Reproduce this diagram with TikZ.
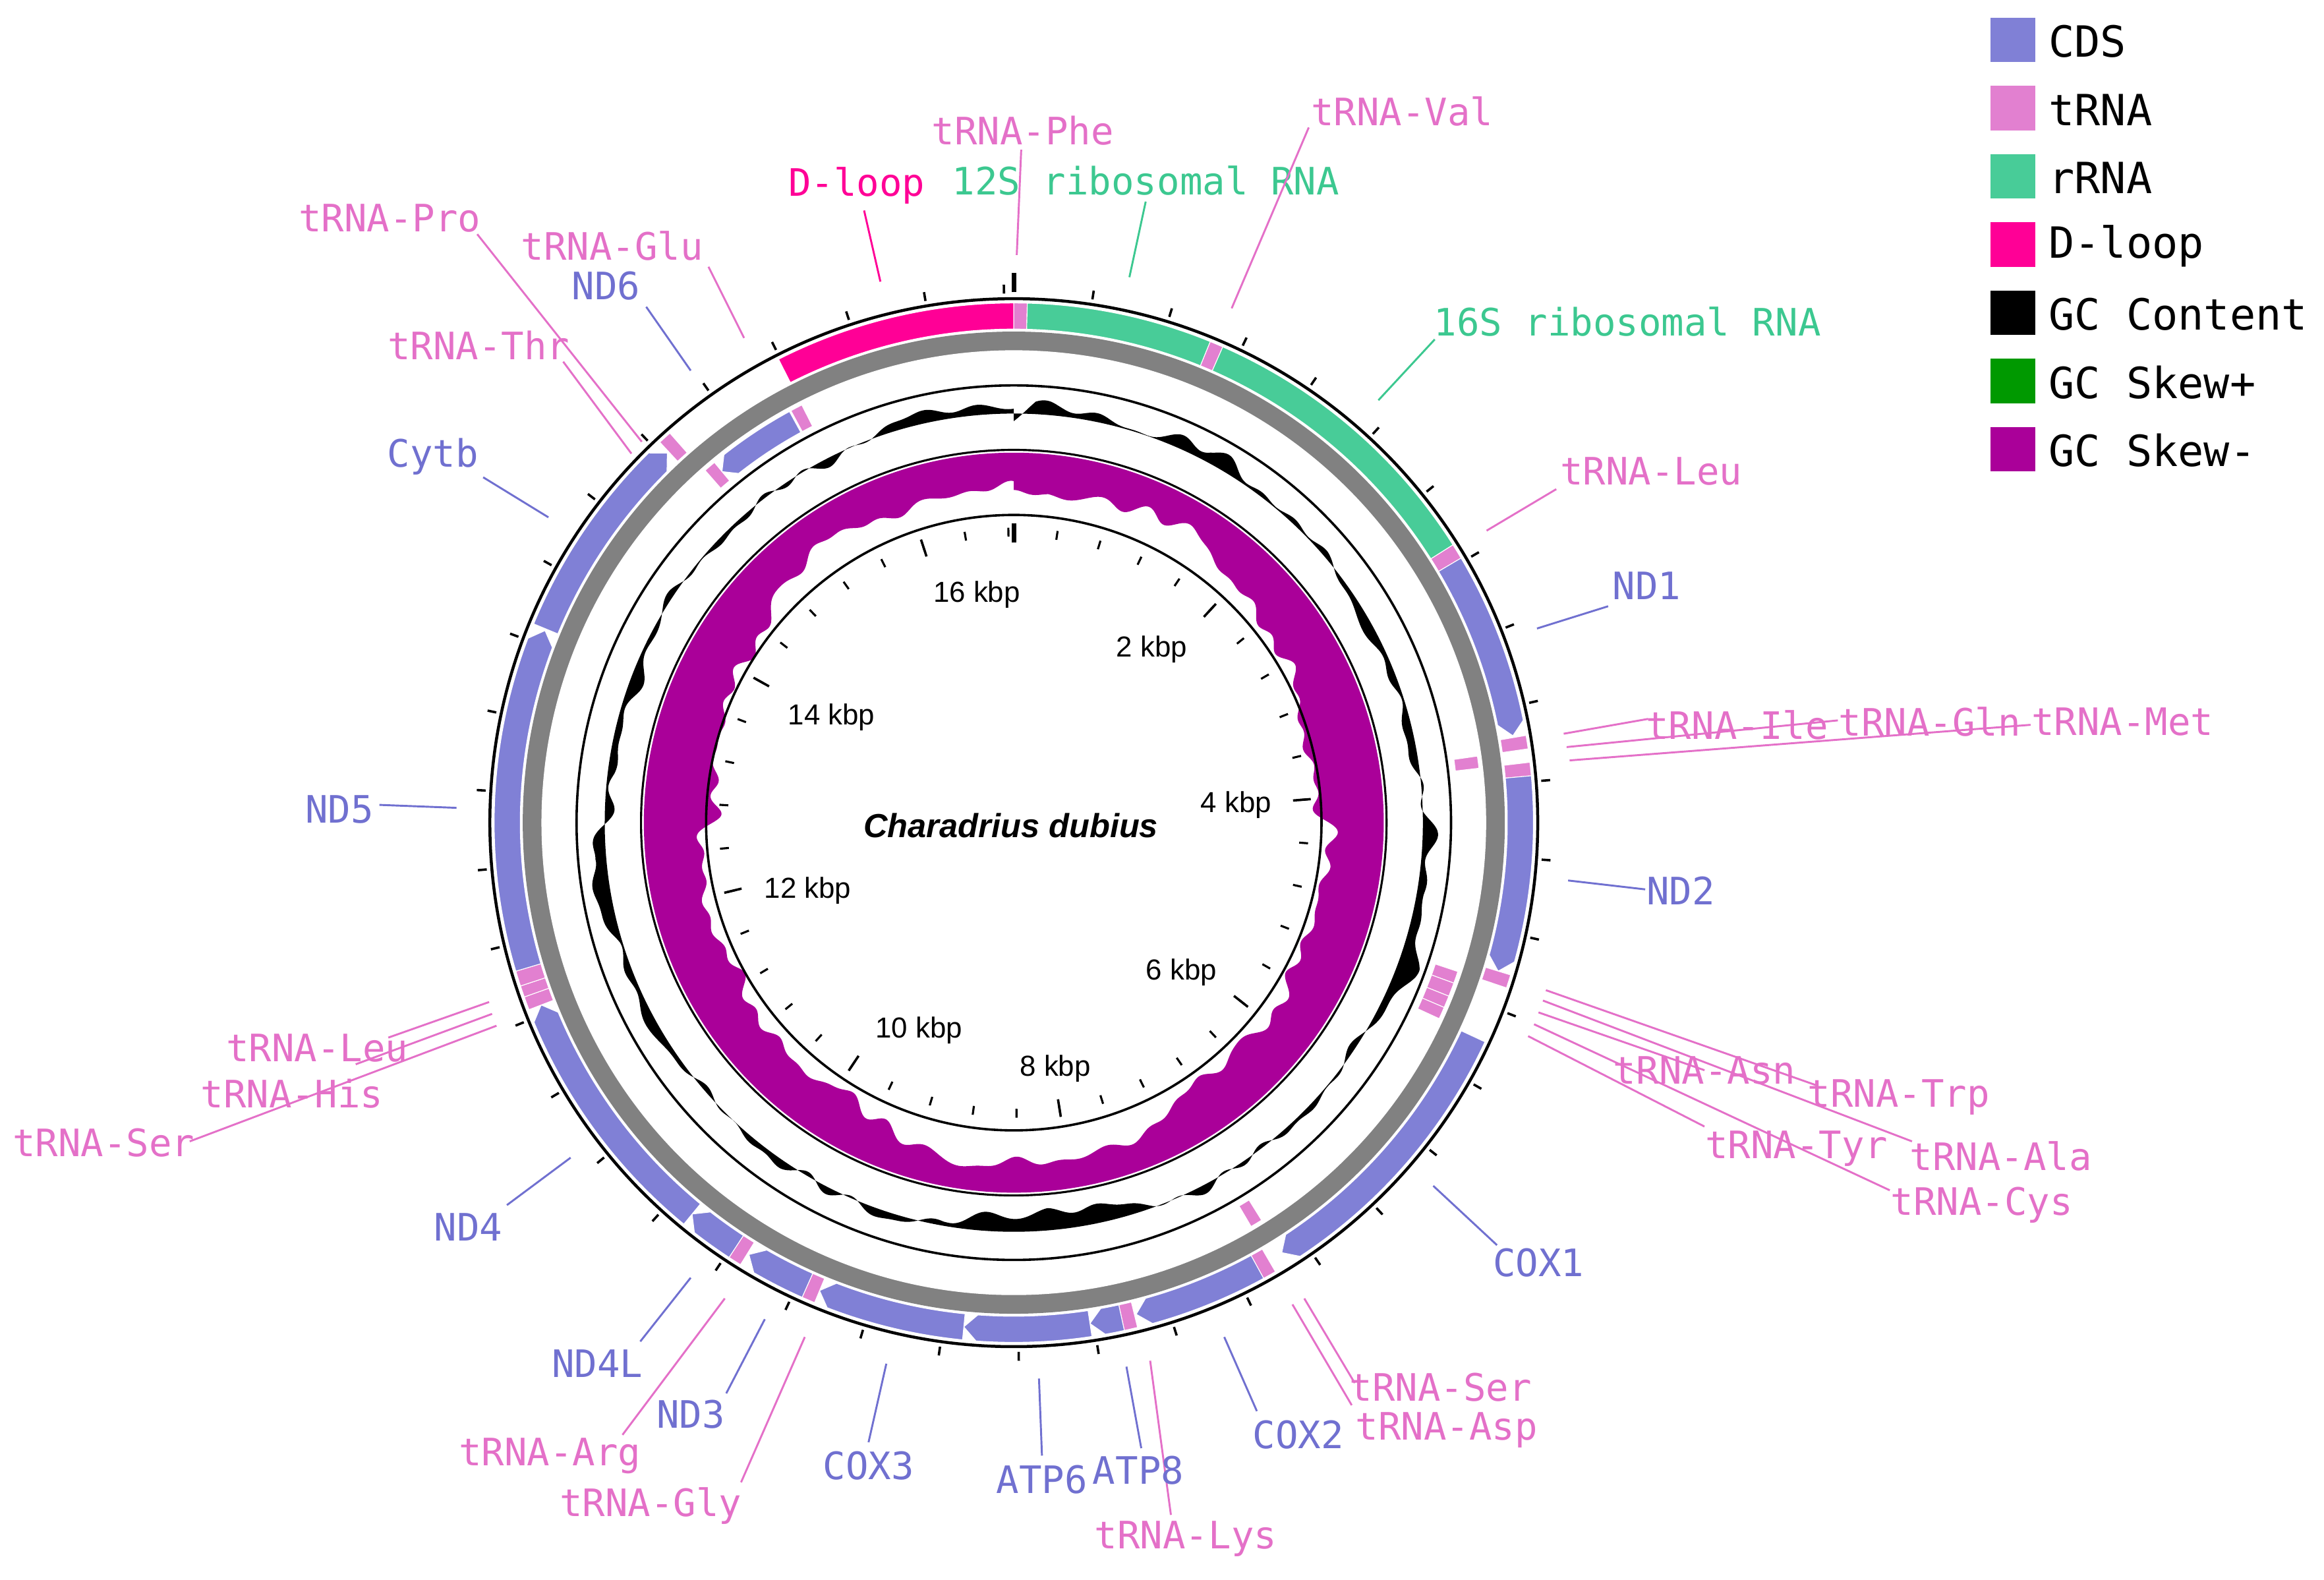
\documentclass[tikz,border=0pt]{standalone}
\usepackage{fontspec}
\setmainfont{Liberation Sans}
\newfontfamily\lblfont{DejaVu Sans Mono}
\definecolor{cds}{RGB}{128,128,214}
\definecolor{trna}{RGB}{226,128,208}
\definecolor{rrna}{RGB}{72,204,152}
\definecolor{dloop}{RGB}{255,0,150}
\definecolor{skewm}{RGB}{170,0,153}
\definecolor{skewp}{RGB}{0,153,0}
\definecolor{tcds}{RGB}{112,112,208}
\definecolor{ttrna}{RGB}{228,112,200}
\definecolor{trrna}{RGB}{60,200,144}
\newcommand\ang[1]{\the\numexpr(#1)/10\relax*0.213650-90}
% generic segment
\newcommand\seg[5]{\fill[#5,draw=white,line width=0.5] ({\ang{#1}}:#3) arc[start angle={\ang{#1}}, end angle={\ang{#2}}, radius=#3] -- ({\ang{#2}}:#4) arc[start angle={\ang{#2}}, end angle={\ang{#1}}, radius=#4] -- cycle;}
\newcommand\po[3]{\seg{#1}{#2}{333}{350.6}{#3}}
\newcommand\mi[3]{\seg{#1}{#2}{300}{316}{#3}}
% plus CDS arrow (tip at end)
\newcommand\cdsP[2]{\fill[cds,draw=white,line width=0.5] ({\ang{#1}}:333) arc[start angle={\ang{#1}}, end angle={\ang{#2-70}}, radius=333] -- ({\ang{#2}}:341.8) -- ({\ang{#2-70}}:350.6) arc[start angle={\ang{#2-70}}, end angle={\ang{#1}}, radius=350.6] -- cycle;}
% minus CDS arrow (tip at start)
\newcommand\cdsM[2]{\fill[cds,draw=white,line width=0.5] ({\ang{#1}}:308) -- ({\ang{#1+70}}:300) arc[start angle={\ang{#1+70}}, end angle={\ang{#2}}, radius=300] -- ({\ang{#2}}:316) arc[start angle={\ang{#2}}, end angle={\ang{#1+70}}, radius=316] -- cycle;}
\tikzset{
  lbl/.style={font=\lblfont\fontsize{25.5}{28}\selectfont, inner sep=0pt},
  lc/.style={lbl, text=tcds}, lt/.style={lbl, text=ttrna}, lr/.style={lbl, text=trrna}, ld/.style={lbl, text=dloop},
  llc/.style={tcds, line width=1.3}, llt/.style={ttrna, line width=1.3}, llr/.style={trrna, line width=1.3}, lld/.style={dloop, line width=1.3},
  kb/.style={font=\fontsize{19.5}{22}\selectfont, inner sep=0pt},
  leg/.style={font=\lblfont\fontsize{29}{32}\selectfont, anchor=west, inner sep=0pt}
}
\begin{document}
\begin{tikzpicture}[x=1pt,y=-1pt]
\useasboundingbox (0,0) rectangle (1568,1065.5);
\fill[white] (0,0) rectangle (1568,1065.5);
\begin{scope}[shift={(684,555)}]
% outer ticks
\foreach \p in {4,8,...,168} \draw[line width=1.6] ({\ang{\p00}}:357) -- ({\ang{\p00}}:363);
\draw[line width=3] (-90:358) -- (-90:371);
% ring circles
\fill[gray!90!black!90] (0,0) circle (331.3);
\fill[white] (0,0) circle (318.7);
\draw[line width=2] (0,0) circle (353.5);
% GC content
\fill[black,even odd rule] (0,0) circle (276) plot[domain=-90:270,samples=1441] (\x:{276 + 4*sin(3*\x+20) + 3*sin(7*\x+30) + 2.5*sin(17*\x+70) + 1.5*sin(41*\x) + 1.2*sin(53*\x+11) + 1*sin(59*\x+17) + 0.8*sin(37*\x+50) - 25*max(0,1-abs(\x+96)/9) + 10*max(0,1-abs(\x+62)/22) - 8*max(0,1-abs(\x-85)/15) + 9*max(0,1-abs(\x-175)/12) + 6*max(0,1-abs(\x-20)/10)}) -- cycle;
\draw[line width=1.6] (0,0) circle (295);
% GC skew
\fill[skewm,even odd rule] (0,0) circle (249.6) plot[domain=-90:270,samples=1441] (\x:{218 - 10*cos(2*\x) + 4*sin(5*\x+10) + 3*sin(11*\x+40) + 2*sin(23*\x) + 1.5*sin(47*\x+5) + 1*sin(57*\x+3) + 1.2*sin(59*\x+17) + 1*sin(37*\x+50) + 0.9*sin(31*\x+5) + 0.8*sin(43*\x+77) - 6*max(0,1-abs(\x+90)/6)}) -- cycle;
\draw[line width=1.4] (0,0) circle (251.5);
\draw[line width=1.6] (0,0) circle (207.6);
% inner ticks
\foreach \p in {4,8,...,168} \draw[line width=1.4] ({\ang{\p00}}:193) -- ({\ang{\p00}}:199);
\foreach \p in {20,40,...,160} \draw[line width=1.6] ({\ang{\p00}}:189) -- ({\ang{\p00}}:201);
\draw[line width=3] (-90:189) -- (-90:202);
% features
\po{15585}{16850}{dloop}
\po{0}{70}{trna}
\po{70}{1040}{rrna}
\po{1040}{1110}{trna}
\po{1110}{2700}{rrna}
\po{2700}{2775}{trna}
\cdsP{2780}{3750}
\po{3760}{3830}{trna}
\mi{3830}{3900}{trna}
\po{3900}{3970}{trna}
\cdsP{3970}{5010}
\po{5010}{5080}{trna}
\mi{5082}{5150}{trna}
\mi{5150}{5225}{trna}
\mi{5225}{5295}{trna}
\mi{5295}{5370}{trna}
\cdsP{5380}{6930}
\mi{6930}{7000}{trna}
\po{7005}{7075}{trna}
\cdsP{7080}{7770}
\po{7775}{7845}{trna}
\cdsP{7847}{8015}
\cdsP{8015}{8690}
\cdsP{8690}{9475}
\po{9478}{9548}{trna}
\cdsP{9550}{9900}
\po{9905}{9975}{trna}
\cdsP{9975}{10270}
\cdsP{10270}{11645}
\po{11648}{11718}{trna}
\po{11718}{11783}{trna}
\po{11783}{11855}{trna}
\cdsP{11860}{13680}
\cdsP{13690}{14830}
\po{14835}{14905}{trna}
\mi{14915}{14985}{trna}
\cdsM{14990}{15510}
\mi{15515}{15585}{trna}
\end{scope}
% kbp labels
\node[kb] (k16) at (659,401) {16 kbp};
\node[kb] (k2) at (777,438) {2 kbp};
\node[kb] (k4) at (834,543) {4 kbp};
\node[kb] (k6) at (797,656) {6 kbp};
\node[kb] (k8) at (712,721) {8 kbp};
\node[kb] (k10) at (620,695) {10 kbp};
\node[kb] (k12) at (545,601) {12 kbp};
\node[kb] (k14) at (561,484) {14 kbp};
\node[font=\bfseries\itshape\fontsize{22.5}{26}\selectfont] (sp) at (682,557) {Charadrius dubius};
% labels
\node[lt] (phe) at (690,88) {tRNA-Phe};
\draw[llt] (689,101) -- (686,172);
\node[ld] (dl) at (578,125) {D-loop};
\draw[lld] (583,142) -- (594,190);
\node[lr] (s12) at (773,122) {12S ribosomal RNA};
\draw[llr] (773,136) -- (762,187);
\node[lt] (val) at (946,75) {tRNA-Val};
\draw[llt] (883,86) -- (831,208);
\node[lr] (s16) at (1098,217) {16S ribosomal RNA};
\draw[llr] (968,229) -- (930,270);
\node[lt] (leu1) at (1114,318) {tRNA-Leu};
\draw[llt] (1050,330) -- (1003,358);
\node[lc] (nd1) at (1111,395) {ND1};
\draw[llc] (1085,409) -- (1037,424);
\node[lt] (ile) at (1172,489) {tRNA-Ile};
\node[lt] (gln) at (1302,487) {tRNA-Gln};
\node[lt] (met) at (1432,487) {tRNA-Met};
\draw[llt] (1055,495) -- (1112,485);
\draw[llt] (1057,504) -- (1240,486);
\draw[llt] (1059,513) -- (1370,489);
\node[lc] (nd2) at (1134,601) {ND2};
\draw[llc] (1058,594) -- (1110,600);
\node[lt] (asn) at (1150,722) {tRNA-Asn};
\node[lt] (trp) at (1281,740) {tRNA-Trp};
\node[lt] (tyr) at (1212,775) {tRNA-Tyr};
\node[lt] (ala) at (1350,780) {tRNA-Ala};
\node[lt] (cys) at (1337,813) {tRNA-Cys};
\draw[llt] (1043,668) -- (1225,732);
\draw[llt] (1041,675) -- (1290,770);
\draw[llt] (1038,683) -- (1150,722);
\draw[llt] (1035,691) -- (1275,803);
\draw[llt] (1031,699) -- (1150,760);
\node[lc] (cox1) at (1038,852) {COX1};
\draw[llc] (967,800) -- (1010,840);
\node[lt] (ser2) at (972,936) {tRNA-Ser};
\node[lt] (asp) at (976,965) {tRNA-Asp};
\draw[llt] (880,876) -- (914,933);
\draw[llt] (872,880) -- (912,948);
\node[lc] (cox2) at (876,968) {COX2};
\draw[llc] (826,902) -- (848,952);
\node[lt] (lys) at (800,1038) {tRNA-Lys};
\draw[llt] (776,918) -- (790,1022);
\node[lc] (atp8) at (768,992) {ATP8};
\draw[llc] (760,922) -- (770,977);
\node[lc] (atp6) at (703,998) {ATP6};
\draw[llc] (701,930) -- (703,982);
\node[lc] (cox3) at (586,989) {COX3};
\draw[llc] (598,920) -- (586,973);
\node[lt] (gly) at (439,1016) {tRNA-Gly};
\draw[llt] (543,902) -- (500,1000);
\node[lc] (nd3) at (466,954) {ND3};
\draw[llc] (516,890) -- (490,940);
\node[lt] (arg) at (371,982) {tRNA-Arg};
\draw[llt] (489,876) -- (420,968);
\node[lc] (nd4l) at (403,920) {ND4L};
\draw[llc] (466,862) -- (432,905);
\node[lc] (nd4) at (316,828) {ND4};
\draw[llc] (385,781) -- (342,813);
\node[lt] (leu2) at (214,707) {tRNA-Leu};
\node[lt] (his) at (197,738) {tRNA-His};
\node[lt] (ser1) at (70,771) {tRNA-Ser};
\draw[llt] (330,676) -- (262,700);
\draw[llt] (332,684) -- (240,718);
\draw[llt] (335,692) -- (128,770);
\node[lc] (nd5) at (229,546) {ND5};
\draw[llc] (308,545) -- (256,543);
\node[lc] (cytb) at (292,308) {Cytb};
\draw[llc] (370,349) -- (326,322);
\node[lt] (thr) at (323,233) {tRNA-Thr};
\draw[llt] (426,306) -- (380,244);
\node[lt] (pro) at (263,147) {tRNA-Pro};
\draw[llt] (433,298) -- (322,158);
\node[lc] (nd6) at (409,193) {ND6};
\draw[llc] (466,250) -- (436,207);
\node[lt] (glu) at (413,166) {tRNA-Glu};
\draw[llt] (502,228) -- (478,180);
% legend
\foreach \c/\t [count=\i from 0] in {cds/CDS,trna/tRNA,rrna/rRNA,dloop/D-loop,black/GC Content,skewp/GC Skew+,skewm/GC Skew-}{
  \fill[\c] (1343,{12+46*\i}) rectangle (1373,{42+46*\i});
  \node[leg] at (1382,{28+46*\i}) {\t};
}
\end{tikzpicture}
\end{document}
